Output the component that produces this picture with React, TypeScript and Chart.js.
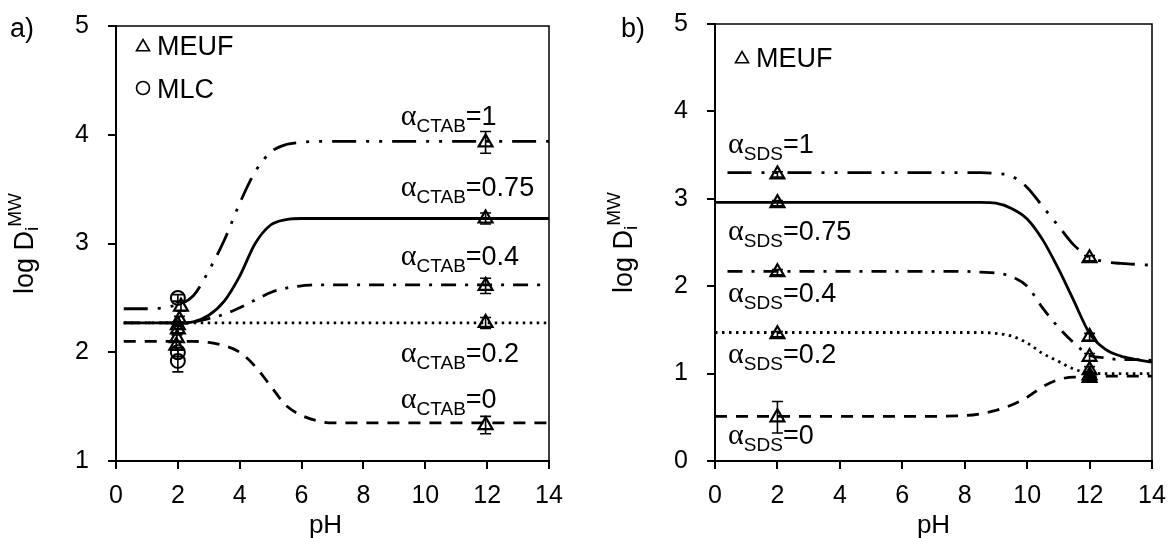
import React, { useEffect, useRef } from "react";
import { Chart, registerables } from "chart.js";

Chart.register(...registerables);

const SANS = 'Arial, "Liberation Sans", sans-serif';
const SERIF = '"Times New Roman", "Liberation Serif", serif';

// ---------- a) CTAB ----------
const ctabPH = [0.25, 1, 2, 2.5, 3, 3.5, 4, 4.5, 5, 5.5, 6, 6.5, 7, 8, 10, 12, 14];
const ctabFit1 = [2.4, 2.4, 2.44, 2.52, 2.75, 3.03, 3.37, 3.66, 3.84, 3.91, 3.93, 3.94, 3.94, 3.94, 3.94, 3.94, 3.94];
const ctabFit075 = [2.27, 2.27, 2.27, 2.28, 2.34, 2.47, 2.7, 3.0, 3.17, 3.22, 3.23, 3.23, 3.23, 3.23, 3.23, 3.23, 3.23];
const ctabFit04 = [2.27, 2.27, 2.27, 2.28, 2.31, 2.35, 2.41, 2.48, 2.55, 2.59, 2.61, 2.62, 2.62, 2.62, 2.62, 2.62, 2.62];
const ctabFit02 = [2.27, 2.27, 2.27, 2.27, 2.27, 2.27, 2.27, 2.27, 2.27, 2.27, 2.27, 2.27, 2.27, 2.27, 2.27, 2.27, 2.27];
const ctabFit0 = [2.1, 2.1, 2.1, 2.1, 2.09, 2.06, 2.0, 1.87, 1.69, 1.51, 1.42, 1.37, 1.35, 1.35, 1.35, 1.35, 1.35];

const ctabMeufPH = [2.1, 2.05, 2.0, 2.0, 1.97, 1.95, 11.95, 11.95, 11.95, 11.95, 11.95];
const ctabMeufVal = [2.42, 2.3, 2.25, 2.21, 2.13, 2.06, 3.93, 3.23, 2.61, 2.27, 1.33];
const ctabMeufErr = [0.04, 0.03, 0.03, 0.03, 0.03, 0.04, 0.1, 0.05, 0.07, 0.05, 0.08];

const ctabMlcPH = [2, 2, 2];
const ctabMlcVal = [2.5, 2.0, 1.92];
const ctabMlcErr = [0.03, 0.04, 0.1];

const ctabAlpha = ["1", "0.75", "0.4", "0.2", "0"];
const ctabYTicks = [1, 2, 3, 4, 5];

// ---------- b) SDS ----------
const sdsPH = [0, 0.4, 2, 4, 6, 8, 8.5, 9, 9.5, 10, 10.5, 11, 11.5, 12, 12.5, 13, 13.5, 14];
const sdsFit1 = [null, 3.3, 3.3, 3.3, 3.3, 3.3, 3.3, 3.29, 3.26, 3.13, 2.91, 2.69, 2.47, 2.33, 2.28, 2.26, 2.25, 2.24];
const sdsFit075 = [2.96, 2.96, 2.96, 2.96, 2.96, 2.96, 2.96, 2.95, 2.89, 2.77, 2.53, 2.2, 1.83, 1.46, 1.28, 1.2, 1.16, 1.13];
const sdsFit04 = [null, 2.17, 2.17, 2.17, 2.17, 2.17, 2.16, 2.15, 2.11, 2.0, 1.75, 1.53, 1.35, 1.21, 1.18, 1.16, 1.16, 1.15];
const sdsFit02 = [1.47, 1.47, 1.47, 1.47, 1.47, 1.47, 1.47, 1.46, 1.43, 1.35, 1.23, 1.14, 1.05, 1.01, 1.0, 1.0, 1.0, 1.0];
const sdsFit0 = [0.51, 0.51, 0.51, 0.51, 0.51, 0.52, 0.54, 0.58, 0.64, 0.73, 0.85, 0.93, 0.96, 0.96, 0.97, 0.97, 0.97, 0.97];

const sdsMeufPH = [2, 2, 2, 2, 2, 12, 12, 12, 12, 12, 12];
const sdsMeufVal = [3.28, 2.95, 2.16, 1.45, 0.5, 2.32, 1.42, 1.19, 1.04, 0.98, 0.95];
const sdsMeufErr = [0.03, 0.03, 0.03, 0.03, 0.18, 0.03, 0.04, 0.04, 0.04, 0.03, 0.03];

const sdsAlpha = ["1", "0.75", "0.4", "0.2", "0"];
const sdsYTicks = [0, 1, 2, 3, 4, 5];

const phTicks = [0, 2, 4, 6, 8, 10, 12, 14];

// line styles for alpha = 1, 0.75, 0.4, 0.2, 0
const DASHES = [[24, 10, 3, 10, 3, 10], [], [15, 9, 3, 9], [2.5, 4.5], [12, 9]];

type Pt = { x: number; y: number | null };
const toPts = (xs: number[], ys: (number | null)[]): Pt[] => xs.map((x, i) => ({ x, y: ys[i] }));

type PanelCfg = {
  letter: string;
  letterDx: number;
  surfactant: string;
  pH: number[];
  fits: (number | null)[][];
  alphas: string[];
  labelAt: { x: number; y: number }[];
  meuf: { x: number[]; y: number[]; e: number[] };
  mlc?: { x: number[]; y: number[]; e: number[] };
  yMin: number;
  yMax: number;
  yTicks: number[];
  titleDx: number;
  legendDy: number;
  width: number;
  padRight: number;
  padTop: number;
  yAxisWidth: number;
};

function triangle(ctx: CanvasRenderingContext2D, cx: number, cy: number, r: number) {
  ctx.beginPath();
  ctx.moveTo(cx, cy - r);
  ctx.lineTo(cx + r * 0.866, cy + r * 0.5);
  ctx.lineTo(cx - r * 0.866, cy + r * 0.5);
  ctx.closePath();
  ctx.stroke();
}

function makeDecor(cfg: PanelCfg) {
  return {
    id: "panelDecor",
    afterDatasetsDraw(chart: any) {
      const { ctx, scales } = chart;
      const xs = scales.x;
      const ys = scales.y;
      ctx.save();
      ctx.strokeStyle = "#000";
      ctx.lineWidth = 1.6;
      // error bars
      chart.data.datasets.forEach((ds: any) => {
        if (!ds.errorBars) return;
        ds.data.forEach((p: any, j: number) => {
          const e = ds.errorBars[j];
          if (!e) return;
          const px = xs.getPixelForValue(p.x);
          const t = ys.getPixelForValue(p.y + e);
          const b = ys.getPixelForValue(p.y - e);
          ctx.beginPath();
          ctx.moveTo(px, t);
          ctx.lineTo(px, b);
          ctx.moveTo(px - 5.5, t);
          ctx.lineTo(px + 5.5, t);
          ctx.moveTo(px - 5.5, b);
          ctx.lineTo(px + 5.5, b);
          ctx.stroke();
        });
      });
      ctx.restore();
    },
    afterDraw(chart: any) {
      const { ctx, chartArea: a, scales } = chart;
      const xs = scales.x;
      const ys = scales.y;
      ctx.save();
      ctx.strokeStyle = "#000";
      ctx.fillStyle = "#000";
      ctx.textBaseline = "alphabetic";
      ctx.textAlign = "left";

      // top and right frame
      ctx.lineWidth = 1.5;
      ctx.beginPath();
      ctx.moveTo(a.left - 8, a.top);
      ctx.lineTo(a.right, a.top);
      ctx.lineTo(a.right, a.bottom);
      ctx.stroke();

      // alpha labels
      cfg.alphas.forEach((v, i) => {
        const p = cfg.labelAt[i];
        const x = xs.getPixelForValue(p.x);
        const y = ys.getPixelForValue(p.y);
        ctx.font = `30px ${SERIF}`;
        ctx.fillText("\u03b1", x, y);
        let w = ctx.measureText("\u03b1").width;
        ctx.font = `19px ${SANS}`;
        ctx.fillText(cfg.surfactant, x + w, y + 7);
        w += ctx.measureText(cfg.surfactant).width;
        ctx.font = `27px ${SANS}`;
        ctx.fillText("=" + v, x + w, y);
      });

      // legend
      ctx.lineWidth = 1.6;
      const lx = a.left + 27;
      const ly = a.top + cfg.legendDy;
      triangle(ctx, lx, ly, 7.5);
      ctx.font = `27px ${SANS}`;
      ctx.fillText("MEUF", lx + 14, ly + 8);
      if (cfg.mlc) {
        ctx.beginPath();
        ctx.arc(lx, ly + 41, 6.5, 0, Math.PI * 2);
        ctx.stroke();
        ctx.fillText("MLC", lx + 14, ly + 51);
      }

      // panel letter
      ctx.font = `27px ${SANS}`;
      ctx.fillText(cfg.letter, a.left + cfg.letterDx, 37);

      // x title
      ctx.textAlign = "center";
      ctx.font = `26px ${SANS}`;
      ctx.fillText("pH", (a.left + a.right) / 2 + cfg.titleDx, 533);

      // y title: log D_i^MW
      ctx.translate(a.left - 83, (a.top + a.bottom) / 2);
      ctx.rotate(-Math.PI / 2);
      ctx.textAlign = "left";
      const big = `27px ${SANS}`;
      const small = `19px ${SANS}`;
      ctx.font = big;
      const w1 = ctx.measureText("log D").width;
      ctx.font = small;
      const w2 = ctx.measureText("i").width;
      const w3 = ctx.measureText("MW").width;
      let x0 = -(w1 + w2 + w3) / 2;
      ctx.font = big;
      ctx.fillText("log D", x0, 0);
      x0 += w1;
      ctx.font = small;
      ctx.fillText("i", x0, 5);
      x0 += w2;
      ctx.fillText("MW", x0, -12);
      ctx.restore();
    },
  };
}

function Panel({ cfg, left }: { cfg: PanelCfg; left: number }) {
  const ref = useRef<HTMLCanvasElement | null>(null);

  useEffect(() => {
    const canvas = ref.current;
    if (!canvas) return;

    const lineSets = cfg.fits.map((ys, i) => ({
      data: toPts(cfg.pH, ys),
      borderColor: "#000",
      borderWidth: 2.8,
      borderDash: DASHES[i],
      pointRadius: 0,
      cubicInterpolationMode: "monotone" as const,
      fill: false,
    }));

    const meufSet: any = {
      data: toPts(cfg.meuf.x, cfg.meuf.y),
      errorBars: cfg.meuf.e,
      showLine: false,
      pointStyle: "triangle",
      pointRadius: 8,
      pointBorderWidth: 2.2,
      pointBorderColor: "#000",
      pointBackgroundColor: "rgba(255,255,255,0)",
    };
    const sets: any[] = [...lineSets, meufSet];
    if (cfg.mlc) {
      sets.push({
        data: toPts(cfg.mlc.x, cfg.mlc.y),
        errorBars: cfg.mlc.e,
        showLine: false,
        pointStyle: "circle",
        pointRadius: 7,
        pointBorderWidth: 2,
        pointBorderColor: "#000",
        pointBackgroundColor: "rgba(255,255,255,0)",
      });
    }

    const zeroPad = (s: any) => {
      s.paddingTop = 0;
      s.paddingBottom = 0;
      s.paddingLeft = 0;
      s.paddingRight = 0;
    };

    const chart = new Chart(canvas, {
      type: "line",
      data: { datasets: sets },
      options: {
        responsive: false,
        animation: false,
        devicePixelRatio: 1,
        layout: { autoPadding: false, padding: { left: 0, top: cfg.padTop, right: cfg.padRight, bottom: 0 } },
        plugins: { legend: { display: false }, tooltip: { enabled: false } },
        scales: {
          x: {
            type: "linear",
            min: 0,
            max: 14,
            afterBuildTicks: (s: any) => {
              s.ticks = phTicks.map((v) => ({ value: v }));
            },
            afterFit: (s: any) => {
              s.height = 77;
              zeroPad(s);
            },
            ticks: {
              color: "#000",
              font: { family: SANS, size: 25 },
              padding: 12,
              maxRotation: 0,
            },
            grid: { drawOnChartArea: false, drawTicks: true, tickLength: 8, color: "#000", lineWidth: 2 },
            border: { display: true, color: "#000", width: 2 },
          },
          y: {
            type: "linear",
            min: cfg.yMin,
            max: cfg.yMax,
            afterBuildTicks: (s: any) => {
              s.ticks = cfg.yTicks.map((v) => ({ value: v }));
            },
            afterFit: (s: any) => {
              s.width = cfg.yAxisWidth;
              zeroPad(s);
            },
            ticks: {
              color: "#000",
              font: { family: SANS, size: 25 },
              padding: 19,
            },
            grid: { drawOnChartArea: false, drawTicks: true, tickLength: 8, color: "#000", lineWidth: 2 },
            border: { display: true, color: "#000", width: 2 },
          },
        },
      },
      plugins: [makeDecor(cfg)],
    } as any);

    return () => chart.destroy();
  }, [cfg]);

  return (
    <canvas
      ref={ref}
      width={cfg.width}
      height={538}
      style={{ position: "absolute", left, top: 0, width: cfg.width, height: 538 }}
    />
  );
}

const panelA: PanelCfg = {
  letter: "a)",
  letterDx: -106,
  surfactant: "CTAB",
  pH: ctabPH,
  fits: [ctabFit1, ctabFit075, ctabFit04, ctabFit02, ctabFit0],
  alphas: ctabAlpha,
  labelAt: [
    { x: 9.21, y: 4.09 },
    { x: 9.21, y: 3.44 },
    { x: 9.21, y: 2.8 },
    { x: 9.21, y: 1.91 },
    { x: 9.21, y: 1.49 },
  ],
  meuf: { x: ctabMeufPH, y: ctabMeufVal, e: ctabMeufErr },
  mlc: { x: ctabMlcPH, y: ctabMlcVal, e: ctabMlcErr },
  yMin: 1,
  yMax: 5,
  yTicks: ctabYTicks,
  titleDx: -7,
  legendDy: 21,
  width: 590,
  padRight: 41,
  padTop: 26,
  yAxisWidth: 116,
};

const panelB: PanelCfg = {
  letter: "b)",
  letterDx: -94,
  surfactant: "SDS",
  pH: sdsPH,
  fits: [sdsFit1, sdsFit075, sdsFit04, sdsFit02, sdsFit0],
  alphas: sdsAlpha,
  labelAt: [
    { x: 0.42, y: 3.52 },
    { x: 0.42, y: 2.53 },
    { x: 0.42, y: 1.82 },
    { x: 0.42, y: 1.12 },
    { x: 0.42, y: 0.19 },
  ],
  meuf: { x: sdsMeufPH, y: sdsMeufVal, e: sdsMeufErr },
  yMin: 0,
  yMax: 5,
  yTicks: sdsYTicks,
  titleDx: 0,
  legendDy: 35,
  width: 582,
  padRight: 20,
  padTop: 24,
  yAxisWidth: 125,
};

export default function App() {
  return (
    <div style={{ position: "absolute", left: 0, top: 0, width: 1172, height: 538, background: "#fff" }}>
      <Panel cfg={panelA} left={0} />
      <Panel cfg={panelB} left={590} />
    </div>
  );
}
